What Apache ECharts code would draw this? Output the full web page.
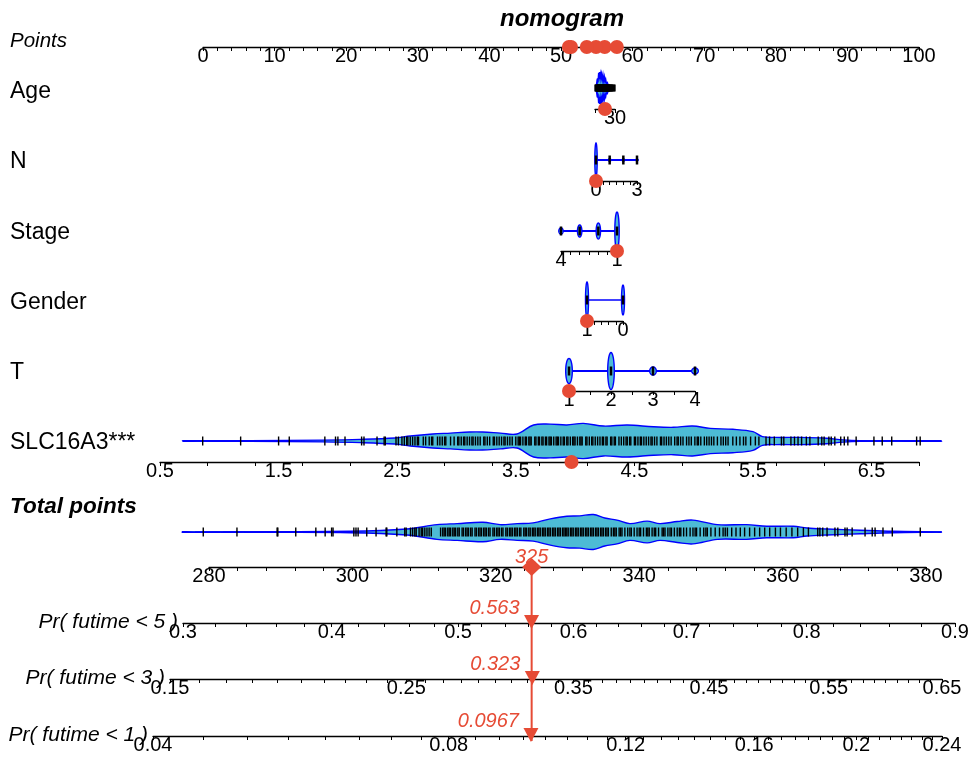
<!DOCTYPE html>
<html><head><meta charset="utf-8">
<script src="https://cdn.jsdelivr.net/npm/echarts@6/dist/echarts.min.js"></script>
<style>html,body{margin:0;padding:0;background:#fff}#c{width:971px;height:758px}</style>
</head><body><div id="c"></div>
<script>
// ================= DATA =================
const chartTitle = 'nomogram';
const rowNames = ['Age', 'N', 'Stage', 'Gender', 'T', 'SLC16A3***'];

// Points scale
const pointsLabels = [0, 10, 20, 30, 40, 50, 60, 70, 80, 90, 100];
const pointsTickStep = 2;
// points contributed by the observed patient: Age, N, Stage, Gender, T, SLC16A3
const obsPoints = [56.1, 54.9, 57.8, 53.6, 51.1, 51.4];

// Age
const ageRange = [30, 90];
const ageLabels = [30];
const ageTicks = [30, 90];
const ageRug = [31, 34, 37, 39, 41, 43, 44, 46, 47, 48, 49, 50, 51, 52, 53, 54, 55, 56, 57, 58, 59, 60, 61, 62, 63, 64, 65, 66, 67, 68, 69, 70, 71, 72, 73, 74, 75, 76, 77, 78, 79, 80, 81, 82, 83, 85, 87, 89];
const ageDensity = [[87, 0], [85, 0.3], [84, 0.15], [82, 0.6], [81, 0.35], [79, 0.95], [78, 0.55], [76, 1.0], [75, 0.7], [73, 0.9], [72, 0.6], [70, 0.85], [68, 0.5], [66, 0.8], [64, 0.45], [62, 0.7], [60, 0.4], [58, 0.55], [56, 0.3], [53, 0.35], [50, 0.15], [47, 0.1], [44, 0]];
const ageObs = 60;

// N
const nRange = [0, 3];
const nLevels = [0, 1, 2, 3];
const nFreq = [1.0, 0.08, 0.07, 0.05];
const nLabels = [0, 3];
const nTickStep = 0.5;
const nObs = 0;

// Stage
const stageRange = [1, 4];
const stageLevels = [1, 2, 3, 4];
const stageFreq = [1.0, 0.42, 0.32, 0.16];
const stageLabels = [4, 1];
const stageTickStep = 0.5;
const stageObs = 1;

// Gender
const genderRange = [0, 1];
const genderLevels = [0, 1];
const genderFreq = [0.83, 1.0];
const genderLabels = [1, 0];
const genderTickStep = 0.2;
const genderObs = 1;

// T
const tRange = [1, 4];
const tLevels = [1, 2, 3, 4];
const tFreq = [0.68, 1.0, 0.22, 0.16];
const tLabels = [1, 2, 3, 4];
const tTickStep = 0.5;
const tObs = 1;

// SLC16A3
const slcRange = [0.5, 6.9];
const slcLabels = [0.5, 1.5, 2.5, 3.5, 4.5, 5.5, 6.5];
const slcTickStep = 0.4;
const slcDensity = [[0.69, 0], [1.26, 0.02], [1.87, 0.05], [2.19, 0.09], [2.48, 0.17], [2.61, 0.28], [2.80, 0.39], [2.95, 0.44], [3.11, 0.5], [3.22, 0.5], [3.37, 0.44], [3.51, 0.39], [3.65, 0.89], [3.79, 0.94], [3.93, 0.89], [4.07, 0.98], [4.24, 0.83], [4.44, 0.89], [4.66, 0.79], [4.83, 0.76], [4.99, 0.83], [5.14, 0.7], [5.33, 0.65], [5.50, 0.52], [5.58, 0.24], [5.70, 0.2], [5.90, 0.2], [6.12, 0.15], [6.26, 0.06], [6.40, 0.02], [7.09, 0]];
const slcRug = [0.86, 1.18, 1.50, 1.59, 1.89, 1.98, 2.00, 2.06, 2.20, 2.22, 2.33, 2.39, 2.40,
  2.49, 2.51, 2.54, 2.56, 2.58, 2.59, 2.61, 2.63, 2.65, 2.67, 2.68, 2.72, 2.74, 2.77, 2.79, 2.80, 2.84, 2.86, 2.88, 2.90, 2.91, 2.95, 2.98, 3.01, 3.02, 3.04, 3.06, 3.07, 3.09, 3.11, 3.13, 3.14, 3.16, 3.18, 3.20, 3.23, 3.24, 3.26, 3.28, 3.31, 3.32, 3.34, 3.36, 3.38, 3.40, 3.41, 3.43, 3.45, 3.47, 3.50, 3.52, 3.53, 3.54, 3.56, 3.58, 3.59, 3.61, 3.62, 3.63, 3.66, 3.67, 3.69, 3.70, 3.72, 3.73, 3.75, 3.76, 3.78, 3.79, 3.80, 3.82, 3.84, 3.85, 3.86, 3.88, 3.90, 3.91, 3.93, 3.94, 3.96, 3.98, 3.99, 4.00, 4.02, 4.04, 4.05, 4.06, 4.09, 4.10, 4.12, 4.14, 4.15, 4.17, 4.19, 4.21, 4.23, 4.24, 4.26, 4.27, 4.30, 4.31, 4.33, 4.34, 4.37, 4.39, 4.41, 4.43, 4.44, 4.46, 4.47, 4.50, 4.51, 4.53, 4.55, 4.56, 4.58, 4.60, 4.62, 4.64, 4.65, 4.67, 4.69, 4.72, 4.73, 4.75, 4.77, 4.79, 4.81, 4.84, 4.86, 4.87, 4.89, 4.91, 4.94, 4.96, 4.98, 5.01, 5.03, 5.04, 5.06, 5.09, 5.11, 5.13, 5.15, 5.17, 5.20, 5.23, 5.25, 5.27, 5.29, 5.33, 5.36, 5.39, 5.42, 5.44, 5.48, 5.52, 5.55,
  5.61, 5.64, 5.68, 5.74, 5.76, 5.82, 5.85, 5.88, 5.91, 5.95, 5.98, 6.05, 6.08, 6.10, 6.14, 6.16, 6.19, 6.24, 6.27, 6.30, 6.37, 6.52, 6.59, 6.67, 6.88, 6.91];
const slcObs = 3.97;

// Total points
const totalRange = [280, 380];
const totalLabels = [280, 300, 320, 340, 360, 380];
const totalTickStep = 4;
const totalDensity = [[276.2, 0], [299.7, 0.04], [307.6, 0.17], [311.8, 0.42], [314.6, 0.48], [318.2, 0.56], [320.6, 0.42], [323.0, 0.48], [325.2, 0.52], [327.6, 0.75], [329.9, 0.9], [331.7, 0.92], [333.6, 1.0], [335.2, 0.8], [336.9, 0.68], [338.7, 0.48], [341.1, 0.62], [342.9, 0.48], [345.3, 0.6], [347.5, 0.68], [350.9, 0.42], [355.0, 0.42], [357.8, 0.33], [361.5, 0.33], [363.4, 0.23], [366.2, 0.17], [370.8, 0.1], [375.4, 0.04], [382.2, 0]];
const totalRug = [279.2, 283.9, 289.5, 289.6, 292.1, 294.9, 296.2, 297.1, 297.3, 300.2, 300.5, 300.8, 302.0, 303.3, 304.7, 304.8, 306.2, 307.3, 307.5,
  308.1, 308.4, 308.7, 308.9, 309.3, 309.6, 309.8, 310.1, 310.4, 310.7, 311.0,
  312.3, 312.6, 312.8, 313.0, 313.3, 313.5, 313.7, 314.0, 314.2, 314.4, 314.7, 314.9, 315.3, 315.5, 315.8, 316.0, 316.2, 316.5, 316.7, 317.1, 317.3, 317.6, 317.8, 318.0, 318.3, 318.5, 318.7, 319.0, 319.2, 319.6, 319.8, 320.1, 320.3, 320.5, 320.8, 321.0, 321.4, 321.6, 321.9, 322.1, 322.3, 322.6, 322.8, 323.0, 323.3, 323.5, 323.9, 324.1, 324.3, 324.6, 324.8, 325.1, 325.3, 325.5, 325.8, 326.0, 326.2, 326.5, 326.7, 326.9, 327.2, 327.4, 327.6, 327.9, 328.1, 328.3, 328.6, 328.8, 329.0, 329.3, 329.5, 329.7, 329.9, 330.1, 330.4, 330.6, 330.8, 331.1, 331.3, 331.5, 331.8, 332.0, 332.2, 332.5, 332.7, 332.9, 333.2, 333.4, 333.6, 333.9, 334.1, 334.3, 334.6, 334.8, 335.0, 335.3, 335.5, 335.7, 336.1, 336.4, 336.6, 336.8, 337.2, 337.4, 337.6, 338.0, 338.4, 338.7, 338.9, 339.3, 339.7, 340.0, 340.2, 340.6, 341.0, 341.2, 341.4, 341.8, 342.1, 342.3, 342.7, 343.2, 343.4, 343.6, 344.0, 344.3, 344.5, 344.9, 345.3, 345.6, 345.8, 346.2, 346.6, 347.1, 347.5, 347.8, 348.0, 348.5, 349.0, 349.3, 349.5, 350.0, 350.6, 351.2, 351.7, 352.0, 352.3, 352.9, 353.5, 354.1, 354.7, 355.4, 356.1, 356.8, 357.5, 358.2, 359.0, 359.7, 360.5, 361.3, 362.1, 362.9, 363.6,
  364.9, 365.2, 365.6, 366.2, 367.3, 367.7, 368.7, 369.0, 369.7, 371.5, 372.5, 372.9, 374.0, 375.3, 379.2];
const totalObs = 325;

// Probability scales
const prNames = ['Pr( futime < 5 )', 'Pr( futime < 3 )', 'Pr( futime < 1 )'];
const pr5Range = [0.3, 0.9];
const pr5Labels = [0.3, 0.4, 0.5, 0.6, 0.7, 0.8, 0.9];
const pr5TickStep = 0.02;
const pr5Obs = 0.563;
const pr3Range = [0.15, 0.65];
const pr3Labels = [0.15, 0.25, 0.35, 0.45, 0.55, 0.65];
const pr3TickStep = 0.01;
const pr3Obs = 0.323;
const pr1Range = [0.04, 0.24];
const pr1Labels = [0.04, 0.08, 0.12, 0.16, 0.2, 0.24];
const pr1TickStep = 0.005;
const pr1Obs = 0.0967;

// ================= STYLE / LAYOUT =================
const BLUE = '#0000FF', CYAN = '#4DBBD5', RED = '#E64B35', BLACK = '#000000';
const FONT = '"Liberation Sans", Arial, Helvetica, sans-serif';
const AXIS_FS = 20;
const L = {
  points: {left: 203, right: 919, axisY: 47, cy: 27, ly: 41},
  age:    {left: 595, right: 615, axisY: 109, cy: 88, ly: 92},
  n:      {left: 596, right: 637, axisY: 181, cy: 160, ly: 162},
  stage:  {left: 561, right: 617, axisY: 251, cy: 231, ly: 233},
  gender: {left: 587, right: 623, axisY: 321, cy: 300, ly: 303},
  t:      {left: 569, right: 695, axisY: 391, cy: 371, ly: 373},
  slc:    {left: 160, right: 919, axisY: 462, cy: 441, ly: 443},
  total:  {left: 209, right: 926, axisY: 567, cy: 532, ly: 507},
  pr5:    {left: 183, right: 955, axisY: 623, cy: 603},
  pr3:    {left: 170, right: 942, axisY: 679, cy: 659},
  pr1:    {left: 153, right: 942, axisY: 736, cy: 716}
};

// complementary log-log transform used by the survival probability scales
const cloglog = p => Math.log(-Math.log(1 - p));
const invCloglog = v => 1 - Math.exp(-Math.exp(v));
const stepTicks = (a, b, s) => { const out = []; const n = Math.round((b - a) / s); for (let k = 0; k <= n; k++) out.push(Math.round((a + k * s) * 1e6) / 1e6); return out; };
const fmtNum = v => String(+(+v).toFixed(4));

// ================= BUILD =================
const grids = [], xAxes = [], yAxes = [], series = [];

function addRow(key, min, max, inverse, tickVals, labelVals, fmt) {
  const r = L[key]; const gi = grids.length;
  const below = r.axisY - r.cy;
  grids.push({left: r.left, width: r.right - r.left, top: r.cy - 20, height: below + 20, containLabel: false, outerBoundsMode: 'none', show: false});
  yAxes.push({gridIndex: gi, type: 'value', show: false, min: -below, max: 20});
  xAxes.push({
    gridIndex: gi, type: 'value', position: 'bottom', min: min, max: max, inverse: !!inverse,
    splitLine: {show: false}, minorSplitLine: {show: false},
    axisLine: {show: true, onZero: false, lineStyle: {color: BLACK, width: 1.4}},
    axisTick: {show: true, length: 4, inside: false, customValues: tickVals, lineStyle: {color: BLACK, width: 1}},
    axisLabel: {show: true, customValues: labelVals, color: BLACK, fontSize: AXIS_FS, fontFamily: FONT, margin: -1, hideOverlap: false, showMinLabel: true, showMaxLabel: true, formatter: fmt || fmtNum}
  });
  r.gi = gi; r.yMin = -below;
  return gi;
}

const base = gi => ({type: 'custom', xAxisIndex: gi, yAxisIndex: gi, clip: false, silent: true, animation: false});

function baselineSeries(gi, x0, x1, width) {
  return Object.assign(base(gi), {z: 2, data: [[x0, x1]], renderItem: (p, api) => {
    const a = api.coord([api.value(0), 0]), b = api.coord([api.value(1), 0]);
    return {type: 'line', shape: {x1: a[0], y1: a[1], x2: b[0], y2: b[1]}, style: {stroke: BLUE, lineWidth: width}};
  }});
}
function violinSeries(gi, dens, maxH, smooth) {
  return Object.assign(base(gi), {z: 3, data: [[dens[0][0], 0]], renderItem: (p, api) => {
    const up = [], lo = [];
    dens.forEach(d => { const c = api.coord([d[0], 0]); up.push([c[0], c[1] - d[1] * maxH]); lo.push([c[0], c[1] + d[1] * maxH]); });
    lo.reverse();
    const pts = up.concat(lo.slice(1, -1));
    return {type: 'polygon', shape: {points: pts, smooth: smooth}, style: {fill: CYAN, stroke: BLUE, lineWidth: 1.4}};
  }});
}
function catViolinSeries(gi, levels, freq, maxH, rx) {
  return Object.assign(base(gi), {z: 3, data: levels.map((l, i) => [l, freq[i]]), renderItem: (p, api) => {
    const c = api.coord([api.value(0), 0]); const ry = api.value(1) * maxH;
    const pts = []; for (let k = 0; k < 48; k++) { const a = k / 48 * 2 * Math.PI; pts.push([c[0] + rx * Math.cos(a), c[1] + ry * Math.sin(a)]); }
    return {type: 'polygon', shape: {points: pts}, style: {fill: CYAN, stroke: BLUE, lineWidth: 1.4}};
  }});
}
function rugSeries(gi, vals, half, width) {
  return Object.assign(base(gi), {z: 4, data: vals.map(v => [v, 0]), renderItem: (p, api) => {
    const c = api.coord([api.value(0), 0]);
    return {type: 'line', shape: {x1: c[0], y1: c[1] - half, x2: c[0], y2: c[1] + half}, style: {stroke: BLACK, lineWidth: width}};
  }});
}
function dotSeries(gi, vals, yMin) {
  return {type: 'scatter', xAxisIndex: gi, yAxisIndex: gi, clip: false, silent: true, animation: false, z: 10,
    symbol: 'circle', symbolSize: 14, itemStyle: {color: RED, opacity: 1}, data: vals.map(v => [v, yMin])};
}
function arrowSeries(gi, prob, yMin) {
  return Object.assign(base(gi), {z: 11, data: [[cloglog(prob), prob]], renderItem: (p, api) => {
    const c = api.coord([api.value(0), yMin]);
    return {type: 'group', children: [
      {type: 'polygon', shape: {points: [[c[0] - 7.5, c[1] - 8], [c[0] + 7.5, c[1] - 8], [c[0], c[1] + 6]]}, style: {fill: RED}},
      {type: 'text', style: {text: String(api.value(1)), x: c[0] - 12, y: c[1] - 15, align: 'right', verticalAlign: 'middle', textAlign: 'right', textVerticalAlign: 'middle', font: 'italic 20px ' + FONT, fill: RED}}
    ]};
  }});
}

// --- rows ---
const gP = addRow('points', 0, 100, false, stepTicks(0, 100, pointsTickStep), pointsLabels);
series.push(dotSeries(gP, obsPoints, L.points.yMin));

const gA = addRow('age', ageRange[0], ageRange[1], true, ageTicks, ageLabels);
series.push(violinSeries(gA, ageDensity, 16, 0));
series.push(rugSeries(gA, ageRug, 3.5, 2));
series.push(dotSeries(gA, [ageObs], L.age.yMin));

const gN = addRow('n', nRange[0], nRange[1], false, stepTicks(nRange[0], nRange[1], nTickStep), nLabels);
series.push(baselineSeries(gN, nRange[0], nRange[1], 2));
series.push(catViolinSeries(gN, nLevels, nFreq, 17, 1.2));
series.push(rugSeries(gN, nLevels, 4.5, 2.5));
series.push(dotSeries(gN, [nObs], L.n.yMin));

const gS = addRow('stage', stageRange[0], stageRange[1], true, stepTicks(stageRange[0], stageRange[1], stageTickStep), stageLabels);
series.push(baselineSeries(gS, stageRange[0], stageRange[1], 2));
series.push(catViolinSeries(gS, stageLevels, stageFreq, 19, 2.2));
series.push(rugSeries(gS, stageLevels, 4.5, 2.5));
series.push(dotSeries(gS, [stageObs], L.stage.yMin));

const gG = addRow('gender', genderRange[0], genderRange[1], true, stepTicks(genderRange[0], genderRange[1], genderTickStep), genderLabels);
series.push(baselineSeries(gG, genderRange[0], genderRange[1], 1.5));
series.push(catViolinSeries(gG, genderLevels, genderFreq, 18, 1.5));
series.push(rugSeries(gG, genderLevels, 4.5, 2.5));
series.push(dotSeries(gG, [genderObs], L.gender.yMin));

const gT = addRow('t', tRange[0], tRange[1], false, stepTicks(tRange[0], tRange[1], tTickStep), tLabels);
series.push(baselineSeries(gT, tRange[0], tRange[1], 2));
series.push(catViolinSeries(gT, tLevels, tFreq, 18.5, 3.3));
series.push(rugSeries(gT, tLevels, 4.5, 2.5));
series.push(dotSeries(gT, [tObs], L.t.yMin));

const gSl = addRow('slc', slcRange[0], slcRange[1], false, stepTicks(slcRange[0], slcRange[1], slcTickStep), slcLabels);
series.push(baselineSeries(gSl, slcDensity[0][0], slcDensity[slcDensity.length - 1][0], 2));
series.push(violinSeries(gSl, slcDensity, 18, 0.35));
series.push(rugSeries(gSl, slcRug, 4.5, 1.4));
series.push(dotSeries(gSl, [slcObs], L.slc.yMin));

const gTo = addRow('total', totalRange[0], totalRange[1], false, stepTicks(totalRange[0], totalRange[1], totalTickStep), totalLabels);
series.push(baselineSeries(gTo, totalDensity[0][0], totalDensity[totalDensity.length - 1][0], 2));
series.push(violinSeries(gTo, totalDensity, 17.5, 0.35));
series.push(rugSeries(gTo, totalRug, 4.5, 1.4));

const prFmt = v => fmtNum(invCloglog(v));
const g5 = addRow('pr5', cloglog(pr5Range[0]), cloglog(pr5Range[1]), false, stepTicks(pr5Range[0], pr5Range[1], pr5TickStep).map(cloglog), pr5Labels.map(cloglog), prFmt);
const g3 = addRow('pr3', cloglog(pr3Range[0]), cloglog(pr3Range[1]), false, stepTicks(pr3Range[0], pr3Range[1], pr3TickStep).map(cloglog), pr3Labels.map(cloglog), prFmt);
const g1 = addRow('pr1', cloglog(pr1Range[0]), cloglog(pr1Range[1]), false, stepTicks(pr1Range[0], pr1Range[1], pr1TickStep).map(cloglog), pr1Labels.map(cloglog), prFmt);

// vertical red line from total points down through the probability scales
series.push(Object.assign(base(gTo), {z: 9, data: [[totalObs, L.total.yMin]], renderItem: (p, api) => {
  const c = api.coord([api.value(0), api.value(1)]);
  return {type: 'line', shape: {x1: c[0], y1: c[1], x2: c[0], y2: L.pr1.axisY + 5}, style: {stroke: RED, lineWidth: 2}};
}}));
// diamond + total label
series.push(Object.assign(base(gTo), {z: 12, data: [[totalObs, L.total.yMin]], renderItem: (p, api) => {
  const c = api.coord([api.value(0), api.value(1)]);
  return {type: 'group', children: [
    {type: 'polygon', shape: {points: [[c[0], c[1] - 9], [c[0] + 9.5, c[1]], [c[0], c[1] + 9], [c[0] - 9.5, c[1]]]}, style: {fill: RED}},
    {type: 'text', style: {text: String(api.value(0)), x: c[0], y: c[1] - 10, align: 'center', verticalAlign: 'middle', textAlign: 'center', textVerticalAlign: 'middle', font: 'italic 20px ' + FONT, fill: RED}}
  ]};
}}));
series.push(arrowSeries(g5, pr5Obs, L.pr5.yMin));
series.push(arrowSeries(g3, pr3Obs, L.pr3.yMin));
series.push(arrowSeries(g1, pr1Obs, L.pr1.yMin));

// --- text labels ---
const txt = (text, x, y, font, align) => ({type: 'text', x: x, y: y, silent: true, style: {text: text, font: font, fill: BLACK, align: align || 'left', verticalAlign: 'middle', textAlign: align || 'left', textVerticalAlign: 'middle'}});
const rowKeys = ['age', 'n', 'stage', 'gender', 't', 'slc'];
const graphics = [
  txt(chartTitle, 562, 19, 'italic bold 24px ' + FONT, 'center'),
  txt('Points', 10, L.points.ly, 'italic 20.5px ' + FONT),
  txt('Total points', 10, L.total.ly, 'italic bold 22.5px ' + FONT)
];
rowNames.forEach((nm, i) => graphics.push(txt(nm, 10, L[rowKeys[i]].ly, '23px ' + FONT)));
['pr5', 'pr3', 'pr1'].forEach((k, i) => graphics.push(txt(prNames[i], L[k].left - 5, L[k].axisY - 1, 'italic 21px ' + FONT, 'right')));

const chart = echarts.init(document.getElementById('c'), null, {renderer: 'canvas'});
chart.setOption({
  animation: false,
  backgroundColor: '#ffffff',
  grid: grids, xAxis: xAxes, yAxis: yAxes, series: series,
  graphic: graphics
});
</script>
</body></html>
